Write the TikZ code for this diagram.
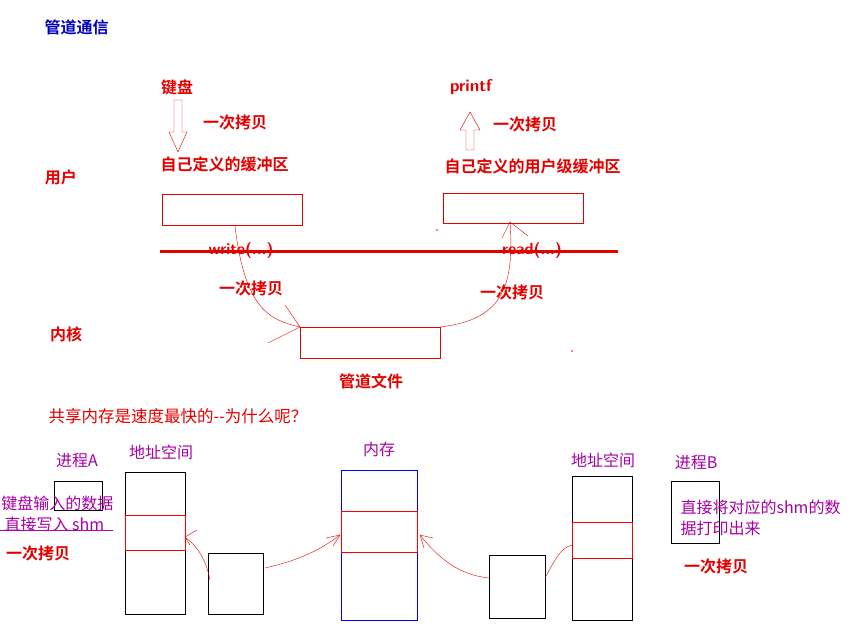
\documentclass[tikz,border=0pt]{standalone}
\usepackage{fontspec}
\newfontfamily\cjk{Noto Sans CJK SC}
\newfontfamily\cjkb{Noto Sans CJK SC Bold}
\begin{document}
\begin{tikzpicture}[x=1pt,y=-1pt,
  rt/.style={text=red!90!black,font=\cjkb\fontsize{16}{18}\selectfont},
  pt/.style={text=violet!70!magenta,font=\cjk\fontsize{16}{18}\selectfont},
  rbox/.style={draw=red!90!black},
  kbox/.style={draw=black},
  cur/.style={red!90!black,thin}]
\useasboundingbox (0,0) rectangle (860,629);
\node[font=\cjkb\fontsize{16}{18}\selectfont,text=blue!75!black,anchor=west] (t) at (41,27) {管道通信};
\node[rt] (kb) at (177,87) {键盘};
\node[rt] (c1) at (235,122) {一次拷贝};
\draw[red!90!black] (174,100)--(182,100)--(182,132)--(187,132)--(178,152)--(169,132)--(174,132)--cycle;
\node[rt,anchor=west] (b1t) at (157,164) {自己定义的缓冲区};
\node[rt,font=\bfseries\sffamily\fontsize{17}{18}\selectfont] (pf) at (471,87) {printf};
\draw[red!90!black] (466,150)--(474,150)--(474,130)--(480,130)--(470,112)--(460,130)--(466,130)--cycle;
\node[rt] (c2) at (525,124) {一次拷贝};
\node[rt,anchor=west] (b2t) at (441,166) {自己定义的用户级缓冲区};
\node[rt] (u) at (61,177) {用户};
\node[rt] (k) at (66,334) {内核};
\draw[rbox] (162,194) rectangle (302,225);
\draw[rbox] (443,193) rectangle (583,223);
\coordinate (l1) at (160,251); \coordinate (l2) at (618,251);
\draw[red!90!black,line width=3pt] (l1)--(l2);
\node[rt,font=\bfseries\sffamily\fontsize{16}{18}\selectfont] (w) at (241,250) {write(...)};
\node[rt,font=\bfseries\sffamily\fontsize{16}{18}\selectfont] (r) at (532,250) {read(...)};
\node[rt] (c3) at (251,288) {一次拷贝};
\node[rt] (c4) at (512,292) {一次拷贝};
\draw[rbox] (300,327) rectangle (440,358);
\coordinate (p1) at (300,327); \coordinate (p2) at (440,327);
\coordinate (s1) at (235,226); \coordinate (s2) at (510,222);
\draw[cur] (s1) .. controls (245,310) and (270,320) .. (p1);
\draw[cur] (p1)--(268,343); \draw[cur] (p1)--(285,305);
\draw[cur] (p2) .. controls (500,320) and (515,290) .. (s2);
\draw[cur] (s2)--(502,238); \draw[cur] (s2)--(528,236);
\node[rt] (pf2) at (371,381) {管道文件};
\fill[red] (437,230) circle (0.8); \fill[red] (572,351) circle (0.8);
\node[text=red!90!black,font=\cjk\fontsize{16.5}{18}\selectfont,anchor=west] (q) at (45,416) {共享内存是速度最快的--为什么呢？};
\node[pt] (pa) at (77,461) {进程A};
\draw[kbox] (54,481) rectangle (102,510);
\node[pt] (as1) at (161,452) {地址空间};
\draw[kbox] (125,472) rectangle (185,614);
\draw[red] (125,515) rectangle (185,550);
\draw[kbox] (208,553) rectangle (263,614);
\node[pt] (m) at (379,449) {内存};
\draw[blue] (341,470) rectangle (417,620);
\draw[red] (341,511) rectangle (417,552);
\node[pt] (as2) at (603,460) {地址空间};
\draw[kbox] (572,476) rectangle (632,620);
\draw[red] (572,522) rectangle (632,558);
\draw[kbox] (489,555) rectangle (545,618);
\node[pt] (pb) at (696,463) {进程B};
\draw[kbox] (671,481) rectangle (719,543);
\node[pt,anchor=east] (ka) at (117,503) {键盘输入的数据};
\node[pt,anchor=west] (kb2) at (1,524) {直接写入\ shm};
\draw[violet!60!magenta] (0,530)--(113,530);
\node[rt] (c5) at (38,553) {一次拷贝};
\node[pt,anchor=west] (d1) at (677,507) {直接将对应的shm的数};
\node[pt,anchor=west] (d2) at (677,528) {据打印出来};
\node[rt] (c6) at (716,566) {一次拷贝};
\draw[cur] (210,580) .. controls (205,555) and (195,545) .. (185,537);
\draw[cur] (185,537)--(197,530); \draw[cur] (185,537)--(190,545);
\draw[cur] (265,568) .. controls (300,560) and (320,550) .. (340,535);
\draw[cur] (340,535)--(326,538); \draw[cur] (340,535)--(333,546);
\draw[cur] (489,578) .. controls (460,575) and (440,560) .. (420,535);
\draw[cur] (420,535)--(424,548); \draw[cur] (420,535)--(433,538);
\draw[cur] (545,578) .. controls (555,560) and (560,548) .. (572,545);
\end{tikzpicture}
\end{document}
